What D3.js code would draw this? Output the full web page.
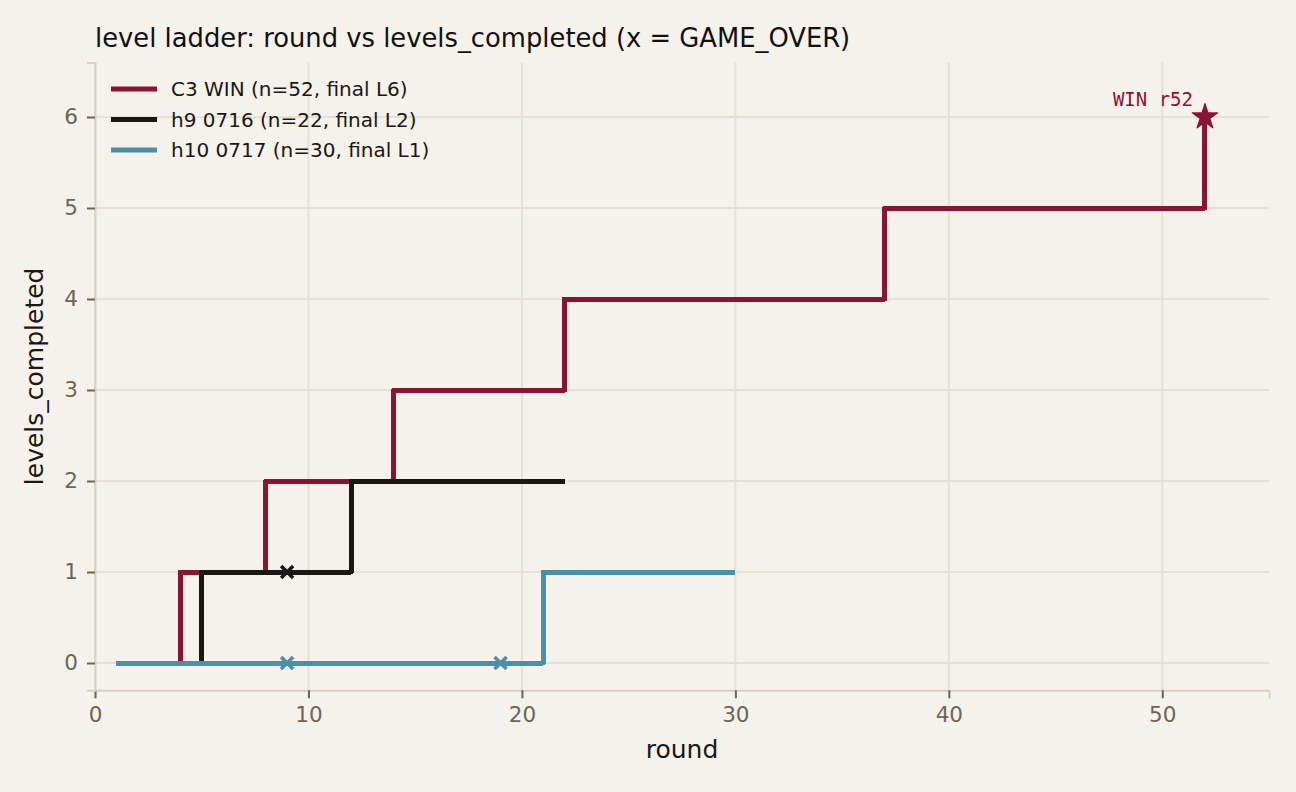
<!DOCTYPE html>
<html lang="en">
<head>
<meta charset="utf-8">
<title>level ladder</title>
<script src="https://cdn.jsdelivr.net/npm/d3@7"></script>
<style>
  body { margin: 0; background: #f5f2eb; }
  svg { display: block; font-family: "DejaVu Sans", sans-serif; }
</style>
</head>
<body>
<script>
// step points: round where the level changes, and the level reached
var c3Rounds = [1, 4, 8, 14, 22, 37, 52];
var c3Levels = [0, 1, 2, 3, 4, 5, 6];
var h9Rounds = [1, 5, 12, 22];
var h9Levels = [0, 1, 2, 2];
var h10Rounds = [1, 21, 30];
var h10Levels = [0, 1, 1];

// GAME_OVER markers
var h9OverRounds = [9];
var h9OverLevels = [1];
var h10OverRounds = [9, 19];
var h10OverLevels = [0, 0];

var seriesNames = ["C3 WIN (n=52, final L6)", "h9 0716 (n=22, final L2)", "h10 0717 (n=30, final L1)"];
var seriesColors = ["#8c1433", "#1a1714", "#4a90a8"];
var xTicks = [0, 10, 20, 30, 40, 50];
var yTicks = [0, 1, 2, 3, 4, 5, 6];

var w = 1296, h = 792;
var mLeft = 95, mRight = 1269, mTop = 62.4, mBottom = 690.3;

var svg = d3.select("body").append("svg")
  .attr("width", w).attr("height", h);

svg.append("rect").attr("width", w).attr("height", h).attr("fill", "#f5f2eb");

var x = d3.scaleLinear().domain([0, 55]).range([mLeft, mRight]);
var y = d3.scaleLinear().domain([-0.3, 6.6]).range([mBottom, mTop]);

// grid
svg.append("g").selectAll("line").data(xTicks).enter().append("line")
  .attr("x1", d => x(d)).attr("x2", d => x(d))
  .attr("y1", mTop).attr("y2", mBottom)
  .attr("stroke", "#e6e1d6").attr("stroke-width", 2);
svg.append("g").selectAll("line").data(yTicks).enter().append("line")
  .attr("x1", mLeft).attr("x2", mRight)
  .attr("y1", d => y(d)).attr("y2", d => y(d))
  .attr("stroke", "#e6e1d6").attr("stroke-width", 2);

// axes
var xAxis = svg.append("g")
  .attr("transform", "translate(0," + mBottom + ")")
  .call(d3.axisBottom(x).tickValues(xTicks).tickFormat(d3.format("d")).tickSize(8).tickPadding(8));
var yAxis = svg.append("g")
  .attr("transform", "translate(" + mLeft + ",0)")
  .call(d3.axisLeft(y).tickValues(yTicks).tickFormat(d3.format("d")).tickSize(8).tickPadding(9));

[xAxis, yAxis].forEach(function(g) {
  g.select(".domain").attr("stroke", "#d9d2c1").attr("stroke-width", 2);
  g.selectAll(".tick line").attr("stroke", "#6b6656").attr("stroke-width", 2);
  g.selectAll(".tick text").attr("fill", "#6b6656")
    .style("font-size", "21.5px").style("font-family", "DejaVu Sans");
});

// step lines
var line = d3.line()
  .x(d => x(d[0])).y(d => y(d[1]))
  .curve(d3.curveStepAfter);

var series = [
  d3.zip(c3Rounds, c3Levels),
  d3.zip(h9Rounds, h9Levels),
  d3.zip(h10Rounds, h10Levels)
];

series.forEach(function(s, i) {
  svg.append("path")
    .datum(s)
    .attr("d", line)
    .attr("fill", "none")
    .attr("stroke", seriesColors[i])
    .attr("stroke-width", 5)
    .attr("stroke-linejoin", "round")
    .attr("shape-rendering", "crispEdges");
});

// GAME_OVER x markers
function drawX(rounds, levels, color) {
  var r = 6;
  rounds.forEach(function(rd, i) {
    var cx = x(rd), cy = y(levels[i]);
    svg.append("path")
      .attr("d", "M" + (cx - r) + "," + (cy - r) + "L" + (cx + r) + "," + (cy + r) +
                 "M" + (cx - r) + "," + (cy + r) + "L" + (cx + r) + "," + (cy - r))
      .attr("stroke", color).attr("stroke-width", 3.6).attr("fill", "none");
  });
}
drawX(h9OverRounds, h9OverLevels, seriesColors[1]);
drawX(h10OverRounds, h10OverLevels, seriesColors[2]);

// win star
var lastR = c3Rounds[c3Rounds.length - 1], lastL = c3Levels[c3Levels.length - 1];
svg.append("path")
  .attr("d", d3.symbol().type(d3.symbolStar).size(200)())
  .attr("transform", "translate(" + x(lastR) + "," + y(lastL) + ")")
  .attr("fill", seriesColors[0])
  .attr("stroke", seriesColors[0]).attr("stroke-width", 1.2).attr("stroke-linejoin", "round");

svg.append("text")
  .attr("x", x(lastR) - 12).attr("y", y(lastL) - 11)
  .attr("text-anchor", "end")
  .style("font-family", "DejaVu Sans Mono")
  .style("font-size", "19px")
  .attr("fill", seriesColors[0])
  .text("WIN r" + lastR);

// legend
var legend = svg.append("g");
seriesNames.forEach(function(name, i) {
  var ly = 89 + i * 30.5;
  legend.append("line")
    .attr("x1", 111).attr("x2", 157).attr("y1", ly).attr("y2", ly)
    .attr("stroke", seriesColors[i]).attr("stroke-width", 5);
  legend.append("text")
    .attr("x", 171).attr("y", ly + 7)
    .style("font-size", "20px")
    .attr("fill", "#1a1714")
    .text(name);
});

// title and axis labels
svg.append("text")
  .attr("x", mLeft).attr("y", 47)
  .style("font-size", "25.8px")
  .attr("fill", "#111")
  .text("level ladder: round vs levels_completed (x = GAME_OVER)");

svg.append("text")
  .attr("x", (mLeft + mRight) / 2).attr("y", 758)
  .attr("text-anchor", "middle")
  .style("font-size", "25px")
  .attr("fill", "#1a1714")
  .text("round");

svg.append("text")
  .attr("transform", "translate(43," + ((mTop + mBottom) / 2) + ") rotate(-90)")
  .attr("text-anchor", "middle")
  .style("font-size", "25px")
  .attr("fill", "#1a1714")
  .text("levels_completed");
</script>
</body>
</html>
